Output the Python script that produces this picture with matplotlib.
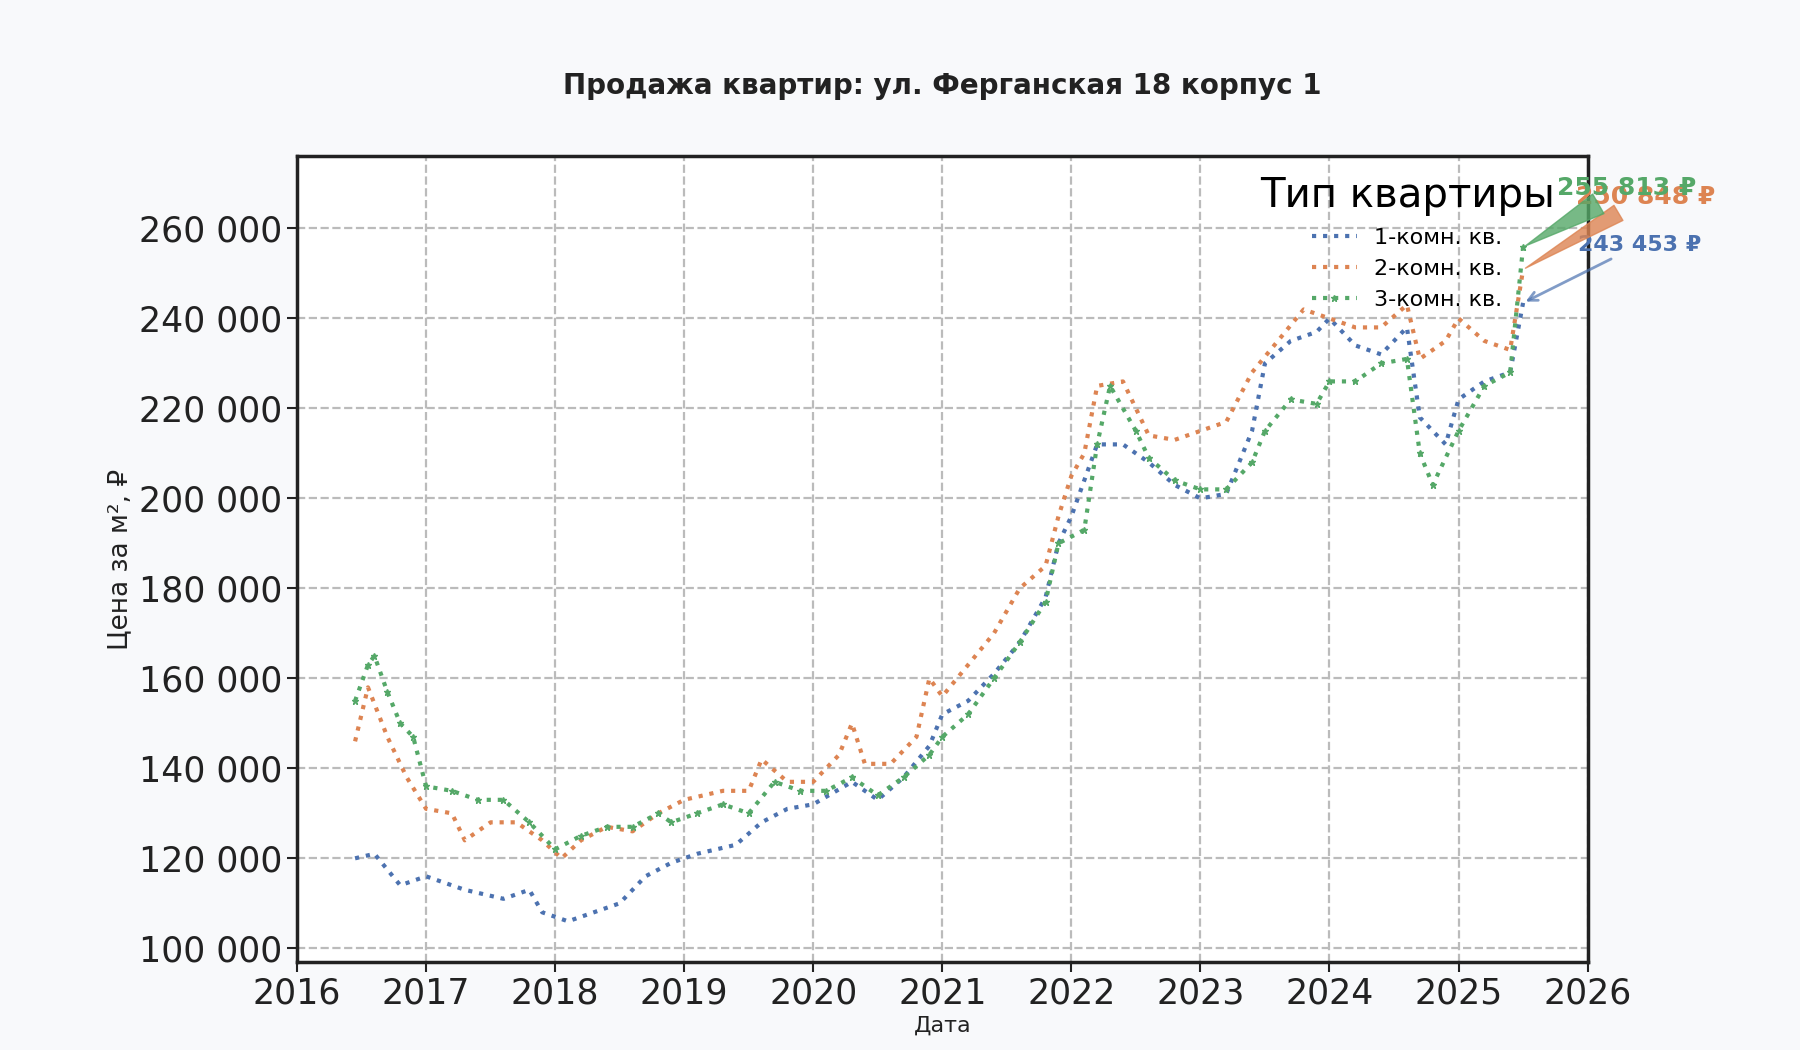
import matplotlib
matplotlib.use("Agg")
import matplotlib.pyplot as plt
from matplotlib.ticker import FuncFormatter

t1 = [2016.45,2016.6,2016.8,2017.0,2017.3,2017.6,2017.8,2017.9,2018.1,2018.3,2018.5,2018.7,2018.9,2019.1,2019.4,2019.6,2019.8,2020.0,2020.3,2020.5,2020.7,2020.9,2021.0,2021.2,2021.4,2021.6,2021.8,2021.9,2022.0,2022.2,2022.4,2022.6,2022.8,2023.0,2023.2,2023.4,2023.5,2023.7,2023.9,2024.0,2024.2,2024.4,2024.6,2024.7,2024.9,2025.0,2025.2,2025.4,2025.5]
v1 = [120,121,114,116,113,111,113,108,106,108,110,116,119,121,123,128,131,132,137,133,138,145,152,155,161,168,178,190,196,212,212,208,203,200,201,215,230,235,237,240,234,232,238,218,212,222,226,228,243.453]
t2 = [2016.45,2016.55,2016.7,2016.85,2017.0,2017.2,2017.3,2017.5,2017.7,2017.9,2018.05,2018.2,2018.4,2018.6,2018.8,2019.0,2019.3,2019.5,2019.6,2019.8,2020.0,2020.2,2020.3,2020.4,2020.6,2020.8,2020.9,2021.0,2021.2,2021.4,2021.6,2021.8,2021.9,2022.0,2022.1,2022.2,2022.4,2022.6,2022.8,2023.0,2023.2,2023.4,2023.6,2023.8,2024.0,2024.2,2024.4,2024.6,2024.7,2024.9,2025.0,2025.2,2025.4,2025.5]
v2 = [146,158,147,138,131,130,124,128,128,124,120,124,127,126,130,133,135,135,142,137,137,143,150,141,141,147,160,156,163,170,180,185,196,205,210,225,226,214,213,215,217,228,235,242,240,238,238,243,231,235,240,235,233,250.848]
t3 = [2016.45,2016.55,2016.6,2016.7,2016.8,2016.9,2017.0,2017.2,2017.4,2017.6,2017.8,2018.0,2018.2,2018.4,2018.6,2018.8,2018.9,2019.1,2019.3,2019.5,2019.7,2019.9,2020.1,2020.3,2020.5,2020.7,2020.9,2021.0,2021.2,2021.4,2021.6,2021.8,2021.9,2022.1,2022.2,2022.3,2022.5,2022.6,2022.8,2023.0,2023.2,2023.4,2023.5,2023.7,2023.9,2024.0,2024.2,2024.4,2024.6,2024.7,2024.8,2025.0,2025.2,2025.4,2025.5]
v3 = [155,163,165,157,150,147,136,135,133,133,128,122,125,127,127,130,128,130,132,130,137,135,135,138,134,138,143,147,152,160,168,177,190,193,212,225,215,209,204,202,202,208,215,222,221,226,226,230,231,210,203,215,225,228,255.813]
labels = ["1-комн. кв.", "2-комн. кв.", "3-комн. кв."]
colors = ["#4c72b0", "#dd8452", "#55a868"]

fig = plt.figure(figsize=(18, 10.5), dpi=100, facecolor="#f8f9fb")
ax = fig.add_axes([0.165, 0.084, 0.717, 0.767])
ax.set_facecolor("white")
series = [(t1, v1), (t2, v2), (t3, v3)]
for i, ((t, v), lab, c) in enumerate(zip(series, labels, colors)):
    vv = [x * 1000 for x in v]
    if i == 2:
        ax.plot(t, vv, ls=":", lw=3, color=c, marker="*", markersize=5, label=lab)
    else:
        ax.plot(t, vv, ls=":", lw=3, color=c, label=lab)

ax.set_xlim(2016, 2026)
ax.set_ylim(97000, 276000)
ax.set_xticks(range(2016, 2027))
ax.set_yticks(range(100000, 260001, 20000))
ax.yaxis.set_major_formatter(FuncFormatter(lambda x, p: f"{int(x):,}".replace(",", " ")))
ax.tick_params(labelsize=25, length=7, width=1.5, colors="#222222")
ax.grid(True, ls="--", lw=1.6, color="#bbbbbb")
for s in ax.spines.values():
    s.set_linewidth(2.5)
    s.set_color("#222222")
ax.set_xlabel("Дата", fontsize=16, color="#222222", labelpad=4)
ax.set_ylabel("Цена за м², ₽", fontsize=19, color="#222222")
ax.set_title("Продажа квартир: ул. Ферганская 18 корпус 1", fontsize=20, fontweight="bold", pad=45, color="#222222")

leg = ax.legend(title="Тип квартиры", loc="upper right", frameon=False, fontsize=16,
                title_fontsize=29, bbox_to_anchor=(0.99, 1.0))

ax.annotate("243 453 ₽", xy=(t1[-1], v1[-1]*1000), xytext=(2026.4, 255000), fontsize=16,
            fontweight="bold", color=colors[0], ha="center",
            arrowprops=dict(arrowstyle="->", color=colors[0], lw=2, alpha=0.7))
ax.annotate("250 848 ₽", xy=(t2[-1], v2[-1]*1000), xytext=(2026.45, 265500), fontsize=18,
            fontweight="bold", color=colors[1], ha="center",
            arrowprops=dict(arrowstyle="wedge,tail_width=0.7", color=colors[1], lw=1, alpha=0.8))
ax.annotate("255 813 ₽", xy=(t3[-1], v3[-1]*1000), xytext=(2026.3, 267500), fontsize=18,
            fontweight="bold", color=colors[2], ha="center",
            arrowprops=dict(arrowstyle="wedge,tail_width=0.9", color=colors[2], lw=1, alpha=0.8))
fig.savefig("out.png", dpi=100, facecolor=fig.get_facecolor())
